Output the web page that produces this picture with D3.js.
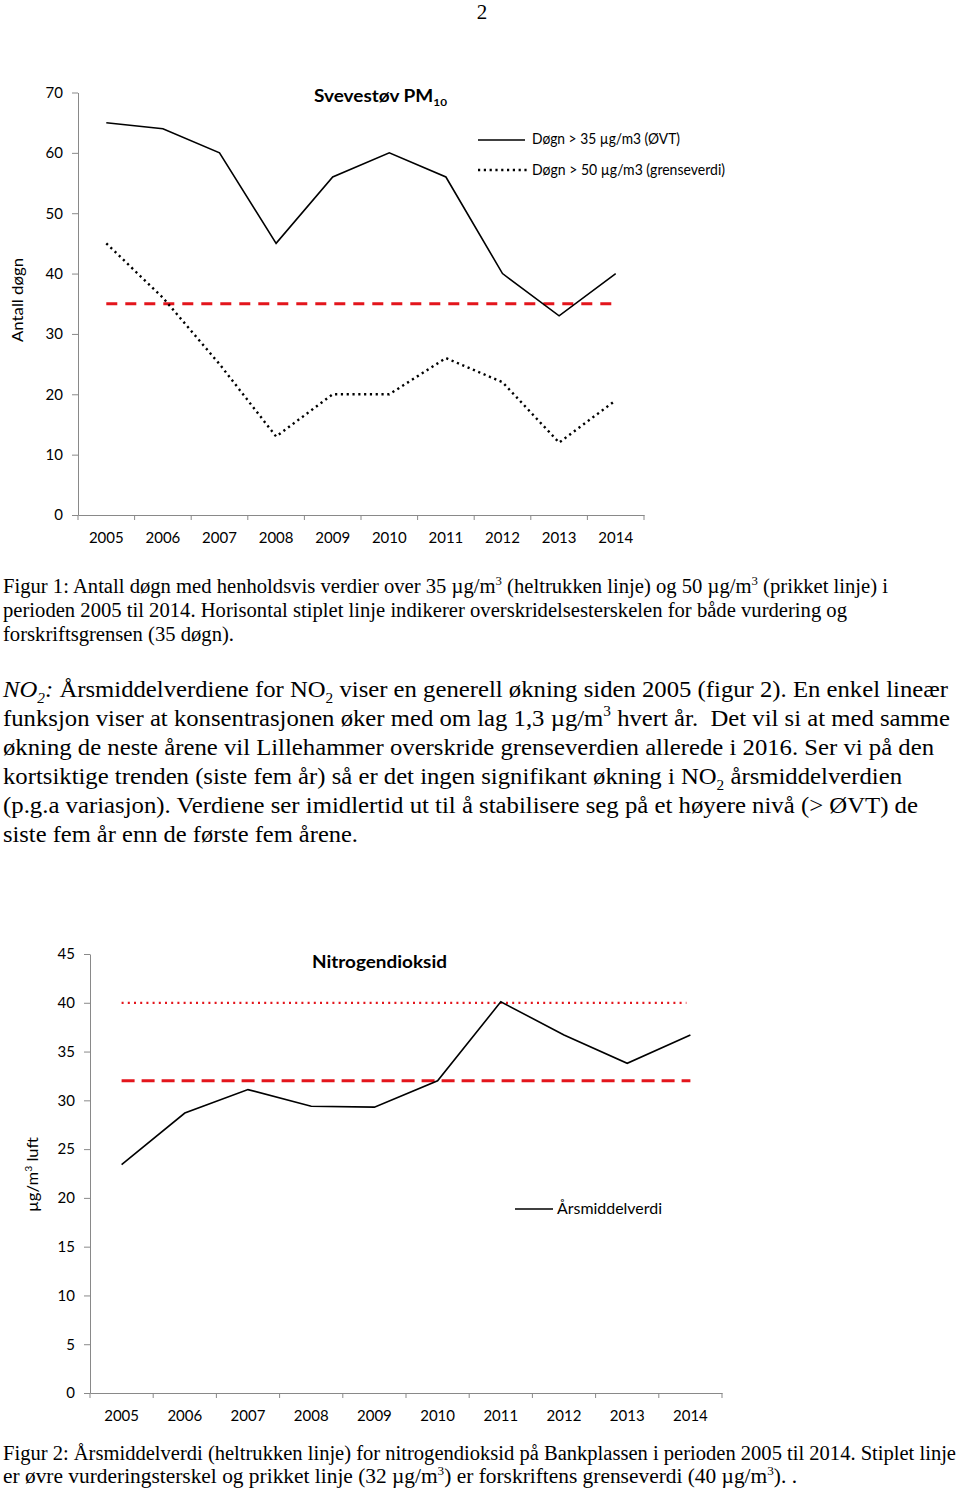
<!DOCTYPE html>
<html>
<head>
<meta charset="utf-8">
<script src="https://cdn.jsdelivr.net/npm/d3@7"></script>
<style>
  body { margin: 0; background: #fff; }
  svg text { white-space: pre; }
</style>
</head>
<body>
<svg width="960" height="1489"></svg>
<script>
// ---- data ----
var years = [2005, 2006, 2007, 2008, 2009, 2010, 2011, 2012, 2013, 2014];
var pm10Over35 = [65, 64, 60, 45, 56, 60, 56, 40, 33, 40];   // døgn > 35 µg/m3
var pm10Over50 = [45, 36, 25, 13, 20, 20, 26, 22, 12, 19];   // døgn > 50 µg/m3
var pm10Limit = 35;
var pm10Ticks = [0, 10, 20, 30, 40, 50, 60, 70];

var no2Annual = [23.4, 28.7, 31.1, 29.4, 29.3, 32.0, 40.1, 36.7, 33.8, 36.7];
var no2Upper = 32;   // øvre vurderingsterskel
var no2Limit = 40;   // grenseverdi
var no2Ticks = [0, 5, 10, 15, 20, 25, 30, 35, 40, 45];

var svg = d3.select("svg");
var axisGrey = "#898989", red = "#e3151c";
var sans = "Lato, 'Open Sans', sans-serif", serif = "'Liberation Serif', 'Times New Roman', serif";

// writes one line of text made of segments (sub / sup / italic)
function richText(x, y, segs, opt) {
  var t = svg.append("text")
    .attr("x", x).attr("y", y)
    .attr("font-family", opt.font)
    .attr("font-size", opt.size)
    .attr("fill", "#000");
  if (opt.weight) t.attr("font-weight", opt.weight);
  if (opt.len) t.attr("textLength", opt.len).attr("lengthAdjust", "spacingAndGlyphs");
  if (opt.transform) t.attr("transform", opt.transform);
  var shift = 0;
  segs.forEach(function(s) {
    var target = s.sub ? opt.size * 0.26 : s.sup ? -opt.size * 0.4 : 0;
    var ts = t.append("tspan").attr("dy", target - shift).text(s.t);
    if (s.sub || s.sup) ts.attr("font-size", opt.size * 0.62);
    if (s.i) ts.attr("font-style", "italic");
    shift = target;
  });
  return t;
}

// page number
svg.append("text").attr("x", 482).attr("y", 19).attr("text-anchor", "middle")
  .attr("font-family", serif).attr("font-size", 21).text("2");

// ---------- Figur 1 ----------
var x1 = d3.scaleBand().domain(years).range([78, 644]);
var y1 = d3.scaleLinear().domain([0, 70]).range([515, 92.5]);
var cx1 = function(d) { return x1(d) + x1.bandwidth() / 2; };

var g1y = svg.append("g").attr("transform", "translate(78,0)")
  .call(d3.axisLeft(y1).tickValues(pm10Ticks).tickSize(6).tickPadding(9).tickSizeOuter(0));
var g1x = svg.append("g").attr("transform", "translate(0,515)")
  .call(d3.axisBottom(x1).tickSize(0).tickPadding(17).tickSizeOuter(0));
g1x.selectAll(".tick text").attr("dy", "0.71em");
g1x.selectAll(".bound").data(years.concat(["end"])).enter().append("line")
  .attr("class", "bound")
  .attr("x1", function(d) { return d === "end" ? x1.range()[1] : x1(d); })
  .attr("x2", function(d) { return d === "end" ? x1.range()[1] : x1(d); })
  .attr("y1", 0).attr("y2", 5).attr("stroke", axisGrey);

[g1x, g1y].forEach(function(g) {
  g.selectAll("path, line").attr("stroke", axisGrey);
  g.selectAll("text").attr("font-family", sans).attr("font-size", 15).attr("fill", "#000");
});

svg.append("line")
  .attr("x1", cx1(years[0])).attr("x2", cx1(years[years.length - 1]))
  .attr("y1", y1(pm10Limit)).attr("y2", y1(pm10Limit))
  .attr("stroke", red).attr("stroke-width", 3).attr("stroke-dasharray", "11,8");

var line1 = d3.line().x(function(d, i) { return cx1(years[i]); }).y(function(d) { return y1(d); });
svg.append("path").datum(pm10Over35).attr("d", line1)
  .attr("fill", "none").attr("stroke", "#000").attr("stroke-width", 1.6);
svg.append("path").datum(pm10Over50).attr("d", line1)
  .attr("fill", "none").attr("stroke", "#000").attr("stroke-width", 2.4).attr("stroke-dasharray", "2.2,3.6");

richText(314, 102, [{t: "Svevestøv PM"}, {t: "10", sub: 1}], {font: sans, size: 16.5, weight: "bold", len: 133});

svg.append("line").attr("x1", 478).attr("x2", 525).attr("y1", 140).attr("y2", 140)
  .attr("stroke", "#000").attr("stroke-width", 1.6);
svg.append("line").attr("x1", 478).attr("x2", 527).attr("y1", 170).attr("y2", 170)
  .attr("stroke", "#000").attr("stroke-width", 2.4).attr("stroke-dasharray", "2.2,3.6");
richText(532, 144, [{t: "Døgn > 35 µg/m3 (ØVT)"}], {font: sans, size: 14.5, len: 148});
richText(532, 175, [{t: "Døgn > 50 µg/m3 (grenseverdi)"}], {font: sans, size: 14.5, len: 193});

richText(0, 0, [{t: "Antall døgn"}], {font: sans, size: 15.5, len: 84, transform: "translate(23,342) rotate(-90)"});

// caption 1
var cap1 = [
  [{t: "Figur 1: Antall døgn med henholdsvis verdier over 35 µg/m"}, {t: "3", sup: 1}, {t: " (heltrukken linje) og 50 µg/m"}, {t: "3", sup: 1}, {t: " (prikket linje) i"}],
  [{t: "perioden 2005 til 2014. Horisontal stiplet linje indikerer overskridelsesterskelen for både vurdering og"}],
  [{t: "forskriftsgrensen (35 døgn)."}]
];
var cap1Len = [885, 844, 231];
cap1.forEach(function(segs, i) {
  richText(3, 593 + i * 24, segs, {font: serif, size: 20, len: cap1Len[i]});
});

// paragraph
var para = [
  [{t: "NO", i: 1}, {t: "2", i: 1, sub: 1}, {t: ": ", i: 1}, {t: "Årsmiddelverdiene for NO"}, {t: "2", sub: 1}, {t: " viser en generell økning siden 2005 (figur 2). En enkel lineær"}],
  [{t: "funksjon viser at konsentrasjonen øker med om lag 1,3 µg/m"}, {t: "3", sup: 1}, {t: " hvert år.  Det vil si at med samme"}],
  [{t: "økning de neste årene vil Lillehammer overskride grenseverdien allerede i 2016. Ser vi på den"}],
  [{t: "kortsiktige trenden (siste fem år) så er det ingen signifikant økning i NO"}, {t: "2", sub: 1}, {t: " årsmiddelverdien"}],
  [{t: "(p.g.a variasjon). Verdiene ser imidlertid ut til å stabilisere seg på et høyere nivå (> ØVT) de"}],
  [{t: "siste fem år enn de første fem årene."}]
];
var paraLen = [945, 947, 931, 899, 915, 355];
para.forEach(function(segs, i) {
  richText(3, 697 + i * 29, segs, {font: serif, size: 24, len: paraLen[i]});
});

// ---------- Figur 2 ----------
var x2 = d3.scaleBand().domain(years).range([90, 722]);
var y2 = d3.scaleLinear().domain([0, 45]).range([1393, 954]);
var cx2 = function(d) { return x2(d) + x2.bandwidth() / 2; };

var g2y = svg.append("g").attr("transform", "translate(90,0)")
  .call(d3.axisLeft(y2).tickValues(no2Ticks).tickSize(6).tickPadding(9).tickSizeOuter(0));
var g2x = svg.append("g").attr("transform", "translate(0,1393)")
  .call(d3.axisBottom(x2).tickSize(0).tickPadding(17).tickSizeOuter(0));
g2x.selectAll(".tick text").attr("dy", "0.71em");
g2x.selectAll(".bound").data(years.concat(["end"])).enter().append("line")
  .attr("class", "bound")
  .attr("x1", function(d) { return d === "end" ? x2.range()[1] : x2(d); })
  .attr("x2", function(d) { return d === "end" ? x2.range()[1] : x2(d); })
  .attr("y1", 0).attr("y2", 5).attr("stroke", axisGrey);

[g2x, g2y].forEach(function(g) {
  g.selectAll("path, line").attr("stroke", axisGrey);
  g.selectAll("text").attr("font-family", sans).attr("font-size", 15).attr("fill", "#000");
});

svg.append("line")
  .attr("x1", cx2(years[0])).attr("x2", cx2(years[years.length - 1]) - 4)
  .attr("y1", y2(no2Limit)).attr("y2", y2(no2Limit))
  .attr("stroke", red).attr("stroke-width", 2.2).attr("stroke-dasharray", "2,4.2");
svg.append("line")
  .attr("x1", cx2(years[0])).attr("x2", cx2(years[years.length - 1]))
  .attr("y1", y2(no2Upper)).attr("y2", y2(no2Upper))
  .attr("stroke", red).attr("stroke-width", 3).attr("stroke-dasharray", "13,7");

var line2 = d3.line().x(function(d, i) { return cx2(years[i]); }).y(function(d) { return y2(d); });
svg.append("path").datum(no2Annual).attr("d", line2)
  .attr("fill", "none").attr("stroke", "#000").attr("stroke-width", 1.6);

richText(312, 968, [{t: "Nitrogendioksid"}], {font: sans, size: 16.5, weight: "bold", len: 135});

svg.append("line").attr("x1", 515).attr("x2", 553).attr("y1", 1209).attr("y2", 1209)
  .attr("stroke", "#000").attr("stroke-width", 1.6);
richText(557, 1214, [{t: "Årsmiddelverdi"}], {font: sans, size: 14.5, len: 105});

richText(0, 0, [{t: "µg/m"}, {t: "3", sup: 1}, {t: " luft"}], {font: sans, size: 15.5, len: 75, transform: "translate(38,1212) rotate(-90)"});

// caption 2
var cap2 = [
  [{t: "Figur 2: Årsmiddelverdi (heltrukken linje) for nitrogendioksid på Bankplassen i perioden 2005 til 2014. Stiplet linje"}],
  [{t: "er øvre vurderingsterskel og prikket linje (32 µg/m"}, {t: "3", sup: 1}, {t: ") er forskriftens grenseverdi (40 µg/m"}, {t: "3", sup: 1}, {t: "). ."}]
];
var cap2Len = [953, 794];
cap2.forEach(function(segs, i) {
  richText(3, 1460 + i * 23, segs, {font: serif, size: 20, len: cap2Len[i]});
});
</script>
</body>
</html>
